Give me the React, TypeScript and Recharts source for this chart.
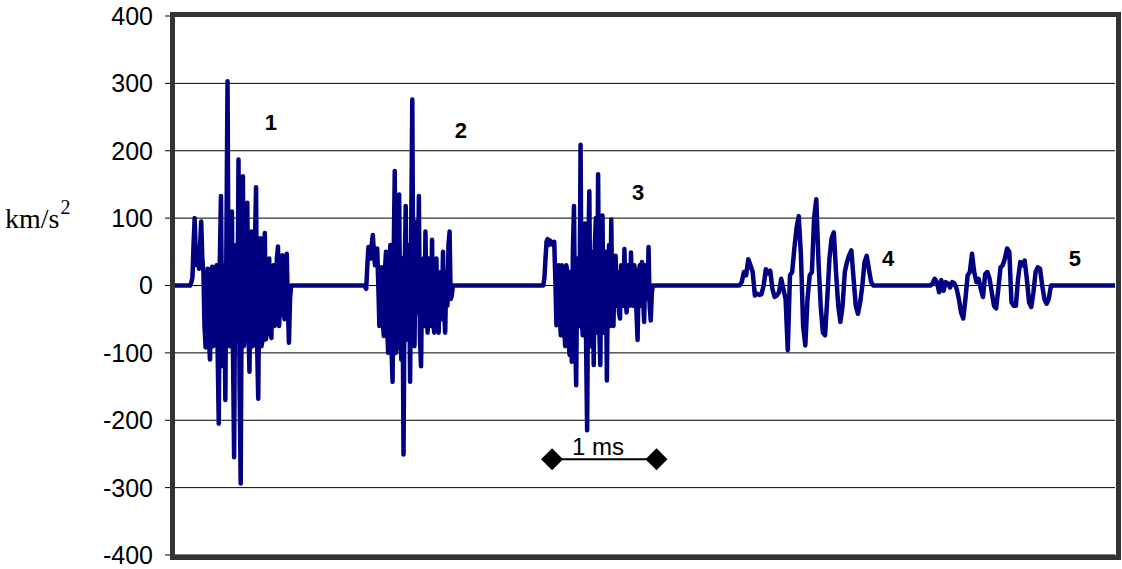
import React from 'react';
import { LineChart, Line, XAxis, YAxis, CartesianGrid, ReferenceDot } from 'recharts';

// time grid (ms)
const timeDomain = [0, 9];
const burstStarts = [0.146, 1.81, 3.526, 5.405, 7.232];
const burstSteps = [0.0105, 0.0105, 0.0105, 0.021, 0.021];

// acceleration values (km/s^2) for each burst, one per sample
const burst1 = [0, 5, 12, 60, 100, 50, 30, 35, 25, 60, 95, 40, 20, -60, -92, -10, 25, -80, -110, -20, 28, -90, -70, 20, 30, -100, -205, 40, 133, -60, -120, 30, -170, 70, 303, -40, -90, 40, 110, -100, -255, 20, 60, -80, 187, -150, -294, 30, 162, -90, -60, 50, 123, -60, -128, 30, 80, -90, -40, 60, 146, -90, -168, 20, 70, -90, -80, 40, 78, -80, -60, 30, 40, -70, -78, 20, 30, -60, -30, 40, 58, -60, -20, 30, 45, -40, -50, 30, 47, -30, -85, -20, 0];
const burst2 = [0, -2, -5, 30, 57, 45, 40, 60, 75, 50, 30, 40, 55, 0, -60, -10, 27, -50, -75, 20, 50, -60, -100, 30, 60, -90, -143, 40, 170, -100, -90, 60, 135, -60, -110, 40, -251, 20, 118, -80, -80, 60, -143, 80, 276, -60, -90, 40, 95, -40, 133, -80, -120, 30, 40, -60, 80, -40, -70, 40, 30, -60, 68, -50, -70, 30, 40, -60, -70, 10, 20, -50, 50, -40, -70, 20, -30, 60, 80, -20, -15, 0, 0, 0];
const burst3 = [0, 10, 40, 65, 69, 60, 67, 65, 62, 60, 65, 10, -59, 20, 30, -40, -74, 30, 20, -60, -90, 30, 20, -80, -103, 20, -113, 50, 118, -60, -148, 40, 30, -60, 209, -50, -74, 60, 92, -80, -215, 40, 140, -90, -60, 50, -118, 60, 100, -70, 165, -60, -118, 40, 104, -70, -40, 50, -141, 30, 60, -60, 98, -40, -60, 40, 44, -30, 20, -40, -49, 30, 10, -30, 54, -20, -40, 30, 20, -30, 49, -20, -30, 30, 10, -40, -81, 20, 30, -30, 35, -20, -54, 30, 0, -20, 57, -30, -52, -10, 0];
const burst4 = [0, 5, 20, 15, 39, 30, 20, -15, -12, -14, -13, 0, 24, 18, 22, -5, -17, -15, -10, 10, -5, -20, -96, 15, 20, 55, 85, 103, 45, -60, -89, -20, 15, 20, 100, 128, 36, -30, -70, -74, -20, 40, 70, 79, 20, -30, -54, -30, 20, 35, 45, 52, 10, -30, -42, -25, 0, 35, 44, 24, 5, 0];
const burst5 = [0, 3, 10, 5, -10, 8, -8, 5, 3, -3, 5, 3, -5, -20, -40, -49, -20, 15, 20, 47, 20, 5, 10, -5, -17, 17, 20, 10, -10, -30, -34, -5, 27, 30, 40, 55, 50, -25, -30, -30, 10, 35, 30, 37, 10, -25, -32, -10, 20, 27, 25, 0, -20, -27, -20, 0];
const bursts = [burst1, burst2, burst3, burst4, burst5];

// y axis
const yTicks = [400, 300, 200, 100, 0, -100, -200, -300, -400];
const yDomain = [-400, 400];
const unitText = 'km/s';
const unitSup = '2';

// burst numbers
const burstLabels = ['1', '2', '3', '4', '5'];
const burstLabelTimes = [0.919, 2.738, 4.433, 6.827, 8.617];
const burstLabelValues = [242, 230, 138, 40, 40];

// 1 ms scale bar
const scaleBarTimes = [3.61, 4.61];
const scaleBarValue = -258;
const scaleBarText = '1 ms';
const scaleBarTextTime = 4.05;

const series: { t: number; v: number }[] = [{ t: timeDomain[0], v: 0 }];
bursts.forEach((b, i) => {
  b.forEach((v, k) => {
    series.push({ t: +(burstStarts[i] + k * burstSteps[i]).toFixed(4), v });
  });
});
series.push({ t: timeDomain[1], v: 0 });

const scaleBar = scaleBarTimes.map((t) => ({ t, v: scaleBarValue }));

const SANS = 'Liberation Sans, Arial, sans-serif';

const Diamond = (props: any) => {
  const { cx, cy, index } = props;
  const s = 11;
  return (
    <polygon
      key={`d-${index}`}
      points={`${cx - s},${cy} ${cx},${cy - s} ${cx + s},${cy} ${cx},${cy + s}`}
      fill="#000"
    />
  );
};

export default function App() {
  return (
    <div style={{ position: 'absolute', left: 0, top: 0, width: 1122, height: 569, background: '#fff' }}>
      <LineChart width={1122} height={569} data={series} margin={{ top: 16, right: 7, bottom: 14, left: 0 }}>
        <CartesianGrid vertical={false} horizontal stroke="#000" strokeWidth={1} />
        <XAxis type="number" dataKey="t" domain={timeDomain} hide allowDataOverflow />
        <YAxis
          type="number"
          domain={yDomain}
          ticks={yTicks}
          interval={0}
          width={175}
          axisLine={false}
          tickLine={{ stroke: '#000', strokeWidth: 1 }}
          tickSize={10}
          tickMargin={12}
          tick={{ fill: '#000', fontSize: 25, fontFamily: SANS }}
          allowDataOverflow
        />
        <Line
          data={series}
          type="linear"
          dataKey="v"
          stroke="#000080"
          strokeWidth={4.5}
          dot={false}
          strokeLinejoin="round"
          isAnimationActive={false}
        />
        <Line
          data={scaleBar}
          type="linear"
          dataKey="v"
          stroke="#000"
          strokeWidth={2}
          dot={<Diamond />}
          activeDot={false}
          isAnimationActive={false}
        />
        {burstLabels.map((text, i) => (
          <ReferenceDot
            key={text}
            x={burstLabelTimes[i]}
            y={burstLabelValues[i]}
            r={0}
            fill="none"
            stroke="none"
            label={{ value: text, position: 'center', fill: '#000', fontSize: 22, fontWeight: 'bold', fontFamily: SANS }}
          />
        ))}
        <ReferenceDot
          x={scaleBarTextTime}
          y={scaleBarValue}
          r={0}
          fill="none"
          stroke="none"
          label={{ value: scaleBarText, position: 'top', offset: 4, fill: '#000', fontSize: 24, fontFamily: SANS }}
        />
      </LineChart>
      <div
        style={{
          position: 'absolute',
          left: 170,
          top: 12,
          width: 951,
          height: 548,
          border: '5px solid #333',
          boxSizing: 'border-box',
          pointerEvents: 'none',
        }}
      />
      <div
        style={{
          position: 'absolute',
          left: 5,
          top: 205,
          fontFamily: 'Liberation Serif, Times New Roman, serif',
          fontSize: 28,
          lineHeight: 1,
          color: '#000',
          whiteSpace: 'nowrap',
        }}
      >
        {unitText}
        <span style={{ fontSize: 20, position: 'relative', top: -14, marginLeft: 1 }}>{unitSup}</span>
      </div>
    </div>
  );
}
